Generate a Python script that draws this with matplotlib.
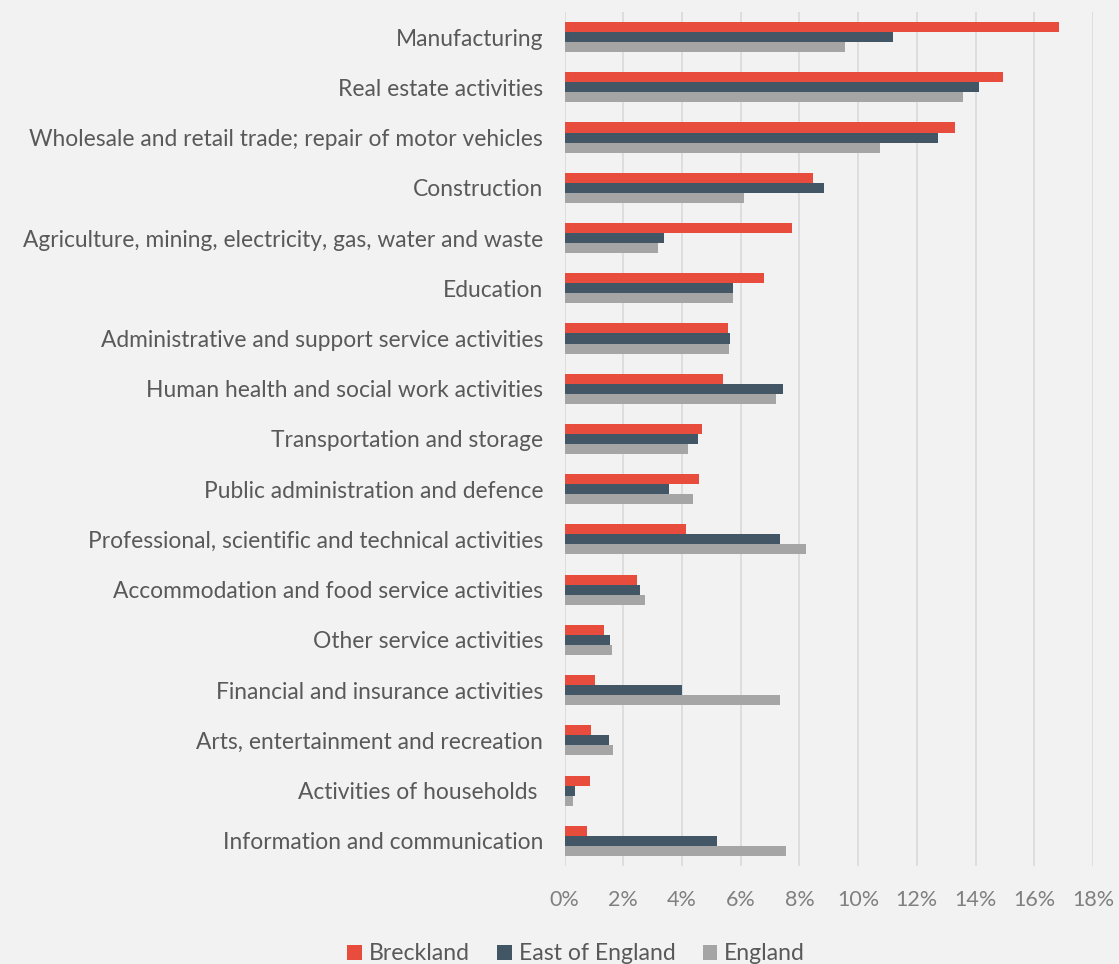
import matplotlib.pyplot as plt
import numpy as np
from matplotlib.ticker import FuncFormatter

plt.rcParams['font.family'] = ['Lato', 'DejaVu Sans']

categories = [
    'Manufacturing',
    'Real estate activities',
    'Wholesale and retail trade; repair of motor vehicles',
    'Construction',
    'Agriculture, mining, electricity, gas, water and waste',
    'Education',
    'Administrative and support service activities',
    'Human health and social work activities',
    'Transportation and storage',
    'Public administration and defence',
    'Professional, scientific and technical activities',
    'Accommodation and food service activities',
    'Other service activities',
    'Financial and insurance activities',
    'Arts, entertainment and recreation',
    'Activities of households ',
    'Information and communication',
]

# share of employment (%)
breckland = [16.83, 14.95, 13.31, 8.46, 7.75, 6.79, 5.56, 5.39, 4.68, 4.57,
             4.13, 2.46, 1.33, 1.02, 0.89, 0.85, 0.75]
east_of_england = [11.19, 14.13, 12.73, 8.84, 3.38, 5.73, 5.63, 7.44, 4.54, 3.55,
                   7.34, 2.56, 1.54, 3.99, 1.50, 0.34, 5.19]
england = [9.56, 13.58, 10.75, 6.11, 3.17, 5.73, 5.60, 7.20, 4.20, 4.37,
           8.23, 2.73, 1.60, 7.34, 1.64, 0.27, 7.54]

series = [('Breckland', breckland, '#E84C3D'),
          ('East of England', east_of_england, '#435665'),
          ('England', england, '#A5A5A5')]

bg = '#F2F2F2'
txt = '#595959'

fig = plt.figure(figsize=(11.19, 9.64), dpi=100, facecolor=bg)
ax = fig.add_axes([0.5046, 0.1017, 0.4721, 0.8859])
ax.set_facecolor(bg)

y = np.arange(len(categories))
h = 0.2
for i, (name, vals, col) in enumerate(series):
    ax.barh(y + (i - 1) * h, np.array(vals) / 100, height=h, color=col,
            label=name, zorder=3)

ax.set_xlim(0, 0.18)
ax.set_ylim(len(categories) - 0.5, -0.5)
ax.set_xticks(np.arange(0, 0.181, 0.02))
ax.xaxis.set_major_formatter(FuncFormatter(lambda v, p: f'{v * 100:.0f}%'))
ax.grid(axis='x', color='#D9D9D9', linewidth=1.2, zorder=0)
for s in ax.spines.values():
    s.set_visible(False)
ax.tick_params(axis='x', length=0, pad=17.5, labelsize=15.5, labelcolor='#7F7F7F')
ax.tick_params(axis='y', length=0, pad=15.5, labelsize=16.4, labelcolor=txt)
ax.set_yticks(y)
ax.set_yticklabels(categories)

fig.legend(loc='center', bbox_to_anchor=(0.515, 0.0105), ncol=3,
           frameon=False, fontsize=16.6, labelcolor=txt, handlelength=0.62,
           handleheight=0.62, handletextpad=0.3, columnspacing=1.2,
           borderpad=0)

fig.savefig('out.png', dpi=100, facecolor=bg)
